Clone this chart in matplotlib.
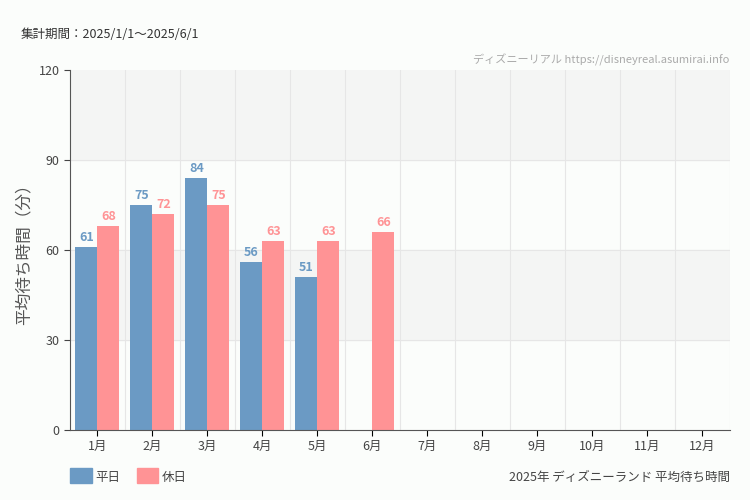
import numpy as np
import matplotlib.pyplot as plt

plt.rcParams['font.family'] = ['Noto Sans CJK JP', 'DejaVu Sans']

months = ['1月', '2月', '3月', '4月', '5月', '6月', '7月', '8月', '9月', '10月', '11月', '12月']
weekday = [61, 75, 84, 56, 51, None, None, None, None, None, None, None]
holiday = [68, 72, 75, 63, 63, 66, None, None, None, None, None, None]

blue = '#6b9ac4'
pink = '#ff9395'
bg = '#fbfdfb'

fig = plt.figure(figsize=(7.5, 5), dpi=100, facecolor=bg)
ax = fig.add_axes([0.0933, 0.14, 0.88, 0.72], facecolor=bg)

# shaded bands
for lo, hi in [(30, 60), (90, 120)]:
    ax.axhspan(lo, hi, color='#f4f5f4', zorder=0)
for yv in [30, 60, 90]:
    ax.axhline(yv, color='#e6e6e6', lw=0.8, zorder=0.5)
for xv in np.arange(0.5, 12, 1):
    ax.axvline(xv, color='#e6e6e6', lw=0.8, zorder=0.5)

x = np.arange(len(months))
w = 0.4
for i in x:
    if weekday[i] is not None:
        ax.bar(i - w / 2, weekday[i], w, color=blue, zorder=2)
        ax.text(i - w / 2, weekday[i] + 1, str(weekday[i]), ha='center', va='bottom',
                color=blue, fontsize=9, fontweight='bold', fontstretch='condensed')
    if holiday[i] is not None:
        ax.bar(i + w / 2, holiday[i], w, color=pink, zorder=2)
        ax.text(i + w / 2, holiday[i] + 1, str(holiday[i]), ha='center', va='bottom',
                color=pink, fontsize=9, fontweight='bold')

ax.set_xlim(-0.5, 11.5)
ax.set_ylim(0, 120)
ax.set_xticks(x)
ax.set_xticklabels(months, fontsize=9, color='#444444')
ax.set_yticks([0, 30, 60, 90, 120])
ax.tick_params(axis='y', labelsize=9, colors='#444444', length=4)
ax.tick_params(axis='x', length=4)
ax.set_ylabel('平均待ち時間（分）', fontsize=12, color='#555555')
for s in ['top', 'right']:
    ax.spines[s].set_visible(False)
for s in ['left', 'bottom']:
    ax.spines[s].set_color('#555555')

fig.text(0.027, 0.925, '集計期間：2025/1/1〜2025/6/1', fontsize=9, color='#333333')
fig.text(0.973, 0.872, 'ディズニーリアル https://disneyreal.asumirai.info', fontsize=8,
         color='#aaaaaa', ha='right')
fig.text(0.973, 0.038, '2025年 ディズニーランド 平均待ち時間', fontsize=9, color='#444444', ha='right')

# legend
fig.patches.append(plt.Rectangle((0.093, 0.035), 0.029, 0.03, color=blue, transform=fig.transFigure))
fig.text(0.127, 0.038, '平日', fontsize=9, color='#444444')
fig.patches.append(plt.Rectangle((0.182, 0.035), 0.029, 0.03, color=pink, transform=fig.transFigure))
fig.text(0.216, 0.038, '休日', fontsize=9, color='#444444')

fig.savefig('out.png', dpi=100, facecolor=bg)
